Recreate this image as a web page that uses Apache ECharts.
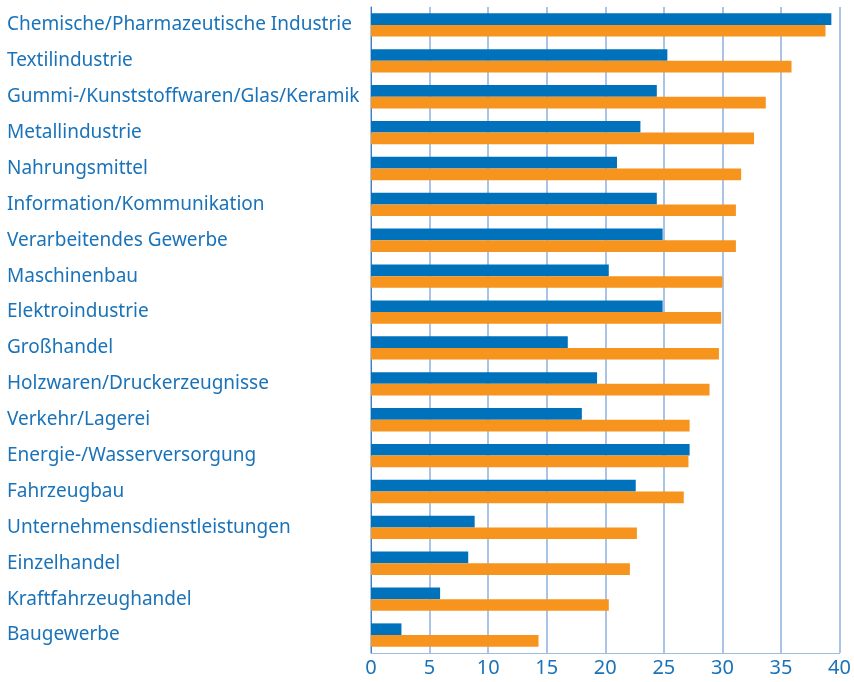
<!DOCTYPE html>
<html lang="de">
<head>
    <meta charset="UTF-8">
    <title>Branchen</title>
    <script src="https://cdn.jsdelivr.net/npm/echarts@6/dist/echarts.min.js"></script>
    <style>
        html, body { margin: 0; padding: 0; background: #fff; }
        #chart { width: 854px; height: 682px; }
    </style>
</head>
<body>
<div id="chart"></div>
<script>
// Branchen, von oben nach unten
var categories = [
    'Chemische/Pharmazeutische Industrie',
    'Textilindustrie',
    'Gummi-/Kunststoffwaren/Glas/Keramik',
    'Metallindustrie',
    'Nahrungsmittel',
    'Information/Kommunikation',
    'Verarbeitendes Gewerbe',
    'Maschinenbau',
    'Elektroindustrie',
    'Großhandel',
    'Holzwaren/Druckerzeugnisse',
    'Verkehr/Lagerei',
    'Energie-/Wasserversorgung',
    'Fahrzeugbau',
    'Unternehmensdienstleistungen',
    'Einzelhandel',
    'Kraftfahrzeughandel',
    'Baugewerbe'
];
// blaue Balken
var blueValues = [39.3, 25.3, 24.4, 23.0, 21.0, 24.4, 24.9, 20.3, 24.9, 16.8, 19.3, 18.0, 27.2, 22.6, 8.85, 8.3, 5.9, 2.6];
// orange Balken
var orangeValues = [38.8, 35.9, 33.7, 32.7, 31.6, 31.15, 31.15, 30.0, 29.9, 29.7, 28.9, 27.2, 27.1, 26.7, 22.7, 22.1, 20.3, 14.3];

var textColor = '#1a73b9';

var myChart = echarts.init(document.getElementById('chart'));
var option = {
    animation: false,
    grid: { left: 371, right: 13, top: 7, bottom: 29 },
    xAxis: {
        type: 'value',
        min: 0,
        max: 40,
        interval: 5,
        axisLine: { show: true, lineStyle: { color: '#9dbde3', width: 1 } },
        axisTick: { show: false },
        axisLabel: { color: textColor, fontSize: 20, fontFamily: 'Noto Sans', margin: 5 },
        splitLine: { show: true, lineStyle: { color: '#a9c4e6', width: 2 } }
    },
    yAxis: {
        type: 'category',
        inverse: true,
        data: categories,
        axisLine: { show: true, lineStyle: { color: '#3b82c4', width: 1 } },
        axisTick: { show: false },
        axisLabel: {
            color: textColor,
            fontSize: 19,
            fontFamily: 'Noto Sans',
            align: 'left',
            margin: 364,
            padding: [0, 0, 5, 0]
        }
    },
    series: [
        {
            name: 'blau',
            type: 'bar',
            data: blueValues,
            itemStyle: { color: '#0072bc' },
            barGap: '0%',
            barCategoryGap: '35%'
        },
        {
            name: 'orange',
            type: 'bar',
            data: orangeValues,
            itemStyle: { color: '#f7941e' },
            barGap: '0%',
            barCategoryGap: '35%'
        }
    ]
};
myChart.setOption(option);
</script>
</body>
</html>
